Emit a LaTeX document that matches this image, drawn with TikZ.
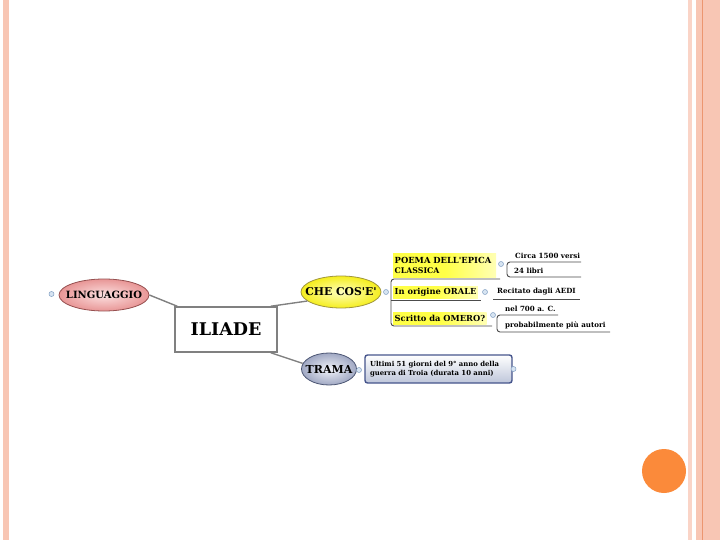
\documentclass[tikz,border=0pt]{standalone}
\usepackage{fontspec}
\setmainfont{DejaVu Serif}
\usetikzlibrary{shapes.geometric}
\definecolor{stripe}{RGB}{248,198,180}
\definecolor{stripeline}{RGB}{236,150,112}
\definecolor{dotorange}{RGB}{251,138,58}
\definecolor{linkgray}{RGB}{128,128,128}
\definecolor{knobfill}{RGB}{215,228,242}
\definecolor{knobline}{RGB}{130,160,195}
\definecolor{hiyel}{RGB}{255,255,70}
\definecolor{lingin}{RGB}{252,224,224}
\definecolor{lingout}{RGB}{232,150,150}
\definecolor{lingline}{RGB}{150,80,80}
\definecolor{chein}{RGB}{255,255,190}
\definecolor{cheout}{RGB}{245,238,30}
\definecolor{cheline}{RGB}{160,150,60}
\definecolor{tramain}{RGB}{242,244,250}
\definecolor{tramaout}{RGB}{160,168,195}
\definecolor{tramaline}{RGB}{75,85,115}
\definecolor{boxline}{RGB}{70,85,140}
\definecolor{boxbot}{RGB}{190,198,218}
\newcommand{\fsz}[2]{\fontsize{#1}{#2}\selectfont}
\begin{document}
\begin{tikzpicture}[x=1pt,y=-1pt,
    link/.style={draw=linkgray,line width=1.4pt},
    twig/.style={draw=black!70,line width=0.9pt,rounded corners=3pt},
    knob/.style={circle,draw=knobline,fill=knobfill,line width=0.5pt,inner sep=0pt,minimum size=5pt},
    topic/.style={ellipse,line width=0.8pt,inner sep=0pt,minimum height=32pt},
    tag/.style={anchor=north west,inner sep=1.5pt,align=left,
      left color=hiyel,right color=hiyel!40!white,middle color=hiyel},
    leaf/.style={anchor=west,inner sep=1pt,font=\bfseries\fsz{7.1}{8}}]
  \useasboundingbox (0,0) rectangle (720,540);
  \fill[white] (0,0) rectangle (720,540);
  % slide frame
  \fill[stripe] (3,0) rectangle (9,540);
  \fill[stripe!75!white] (688,0) rectangle (692,540);
  \fill[stripe] (696,0) rectangle (720,540);
  \draw[stripeline,line width=1pt] (702.5,0) -- (702.5,540);
  \fill[dotorange] (664,471) circle (22pt);

  % central topic
  \node[draw=linkgray,line width=1.5pt,fill=white,minimum width=102pt,minimum height=45pt,
    font=\bfseries\fsz{17.5}{20}] (iliade) at (226,329.5) {ILIADE};

  \node[topic,draw=lingline,inner color=lingin,outer color=lingout,minimum width=90pt,
    label={[font=\bfseries\fsz{10}{12}]center:LINGUAGGIO}] (ling) at (104,295) {};
  \node[topic,draw=cheline,inner color=chein,outer color=cheout,minimum width=80pt,
    label={[font=\bfseries\fsz{10.8}{12}]center:CHE COS\textquotesingle E\textquotesingle}] (che) at (341,292) {};
  \node[topic,draw=tramaline,inner color=tramain,outer color=tramaout,minimum width=55pt,
    label={[font=\bfseries\fsz{11}{12}]center:TRAMA}] (trama) at (329,369) {};

  \draw[link] ([xshift=3pt]iliade.north west) -- (ling.east);
  \draw[link] ([xshift=-7pt]iliade.north east) -- (che.195);
  \draw[link] ([xshift=-7pt]iliade.south east) -- (trama.168);

  \node[knob] (kling) at (51.5,294) {};
  \node[knob] (kche) at (386,292) {};
  \node[knob] (ktrama) at (359,370) {};

  % che cos'e'
  \node[tag,text width=100pt,minimum height=24pt,font=\bfseries\fsz{8.4}{10.5}] (poema) at (393,253)
    {POEMA DELL\textquotesingle EPICA\\{\fsz{7.8}{9}CLASSICA}};
  \node[tag,minimum height=12pt,font=\bfseries\fsz{8.3}{10}] (orale) at (393,286) {In origine ORALE};
  \node[tag,minimum height=12pt,font=\bfseries\fsz{8.3}{10}] (omero) at (393,312) {Scritto da OMERO?};
  \draw[twig] (500,279) -- (391,279) -- (391,326) -- (492,326);
  \draw[twig] (391,300) -- (481,300);

  \node[knob] (kpoema) at (501,264) {};
  \node[knob] (korale) at (485,292) {};
  \node[knob] (komero) at (493,315) {};

  \node[leaf] (versi) at (514,256) {Circa 1500 versi};
  \node[leaf] (libri) at (513,271) {24 libri};
  \draw[twig] (581,262) -- (507,262) -- (507,277) -- (581,277);
  \node[leaf] (aedi) at (496,292) {Recitato dagli AEDI};
  \draw[twig] (493,299) -- (580,299);
  \node[leaf] (data) at (504,309) {nel 700 a. C.};
  \node[leaf] (autori) at (504,325) {probabilmente più autori};
  \draw[twig] (558,315) -- (497,315) -- (497,332) -- (610,332);

  % trama
  \node[draw=boxline,line width=1.4pt,rounded corners=2.5pt,top color=white,bottom color=boxbot,
    minimum height=28pt,text width=137pt,inner sep=5pt,align=left,
    font=\bfseries\fsz{6.9}{9}] (plot) at (438.5,369)
    {Ultimi 51 giorni del 9° anno della\\guerra di Troia (durata 10 anni)};
  \node[knob] (kplot) at (513.5,369) {};
\end{tikzpicture}
\end{document}
